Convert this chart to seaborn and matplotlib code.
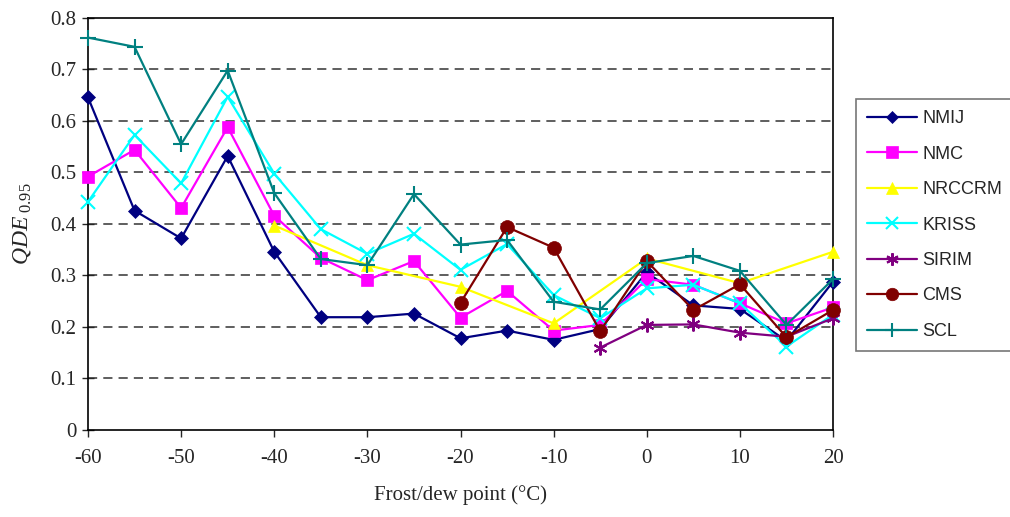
import numpy as np
import pandas as pd
import matplotlib
matplotlib.use("Agg")
import matplotlib.pyplot as plt
import seaborn as sns

x_vals = [-60, -55, -50, -45, -40, -35, -30, -25, -20, -15, -10, -5, 0, 5, 10, 15, 20]
nan = np.nan
NMIJ = [0.646, 0.426, 0.372, 0.532, 0.346, 0.219, 0.219, 0.226, 0.178, 0.193, 0.175, 0.196, 0.306, 0.242, 0.235, 0.173, 0.288]
NMC = [0.492, 0.544, 0.431, 0.588, 0.416, 0.334, 0.291, 0.328, 0.218, 0.270, 0.193, 0.204, 0.293, 0.282, 0.246, 0.207, 0.238]
NRCCRM = [nan, nan, nan, nan, 0.397, nan, 0.320, nan, 0.278, nan, 0.207, nan, 0.333, nan, 0.285, nan, 0.346]
KRISS = [0.443, 0.573, 0.479, 0.647, 0.498, 0.390, 0.342, 0.381, 0.311, 0.361, 0.262, 0.217, 0.275, 0.282, 0.246, 0.162, 0.224]
SIRIM = [nan, nan, nan, nan, nan, nan, nan, nan, nan, nan, nan, 0.160, 0.204, 0.205, 0.189, 0.181, 0.217]
CMS = [nan, nan, nan, nan, nan, nan, nan, nan, 0.247, 0.394, 0.354, 0.192, 0.328, 0.233, 0.283, 0.180, 0.233]
SCL = [0.762, 0.744, 0.555, 0.698, 0.460, 0.332, 0.320, 0.458, 0.360, 0.369, 0.249, 0.234, 0.324, 0.338, 0.309, 0.204, 0.293]

series_names = ["NMIJ", "NMC", "NRCCRM", "KRISS", "SIRIM", "CMS", "SCL"]
series_vals = [NMIJ, NMC, NRCCRM, KRISS, SIRIM, CMS, SCL]
colors = ["#000080", "#FF00FF", "#FFFF00", "#00FFFF", "#800080", "#800000", "#008080"]
markers = ["D", "s", "^", "x", (6, 2, 0), "o", "+"]
msizes = [7, 9, 9, 10, 10, 10, 11]

rows = []
for name, vals in zip(series_names, series_vals):
    for xv, yv in zip(x_vals, vals):
        rows.append({"x": xv, "y": yv, "lab": name})
df = pd.DataFrame(rows).dropna()

sns.set_style("white")
plt.rcParams['font.family'] = ['Liberation Serif', 'DejaVu Serif']
plt.rcParams['axes.unicode_minus'] = False
plt.rcParams['mathtext.fontset'] = 'custom'
plt.rcParams['mathtext.rm'] = 'Liberation Serif'
plt.rcParams['mathtext.it'] = 'Liberation Serif:italic'

fig = plt.figure(figsize=(10.1, 5.17), dpi=100)
ax = fig.add_axes([0.0871, 0.1683, 0.7377, 0.7969])

for name, c, m, ms in zip(series_names, colors, markers, msizes):
    sub = df[df["lab"] == name]
    mew = 1.5 if m in ("x", "+", (6, 2, 0)) else 0.5
    sns.lineplot(data=sub, x="x", y="y", color=c, marker=m, markersize=ms,
                 markeredgecolor=c, markerfacecolor=c, markeredgewidth=mew,
                 linewidth=1.6, ax=ax, label=name, estimator=None, sort=False,
                 clip_on=False, zorder=3)

ax.set_xlim(-60, 20)
ax.set_ylim(0, 0.8)
ax.set_xticks([-60, -50, -40, -30, -20, -10, 0, 10, 20])
ax.set_yticks(np.arange(0, 0.81, 0.1))
ax.set_yticklabels(["0", "0.1", "0.2", "0.3", "0.4", "0.5", "0.6", "0.7", "0.8"])
ax.tick_params(axis='y', direction='inout', length=9, width=1, labelsize=15, pad=4, left=True)
ax.tick_params(axis='x', direction='out', length=5, width=1, labelsize=15, pad=9, bottom=True)
for t in [0.1, 0.2, 0.3, 0.4, 0.5, 0.6, 0.7]:
    ax.axhline(t, color="#333333", linestyle=(0, (6, 4)), linewidth=1.1, zorder=0)
for s in ax.spines.values():
    s.set_color("black")
    s.set_linewidth(1.2)
ax.set_xlabel("Frost/dew point (°C)", fontsize=15, labelpad=12)
ax.set_ylabel(r"$QDE_{\ 0.95}$", fontsize=17, labelpad=12)

leg = ax.legend(loc="upper left", bbox_to_anchor=(1.031, 0.803), frameon=True, fancybox=False,
                edgecolor="#555555", prop={"family": "Liberation Sans", "size": 13},
                labelspacing=1.02, handlelength=2.75, borderpad=0.62, handletextpad=0.3,
                borderaxespad=0, markerscale=0.9)
leg.get_frame().set_linewidth(1.2)

fig.savefig("out.png", dpi=100)
